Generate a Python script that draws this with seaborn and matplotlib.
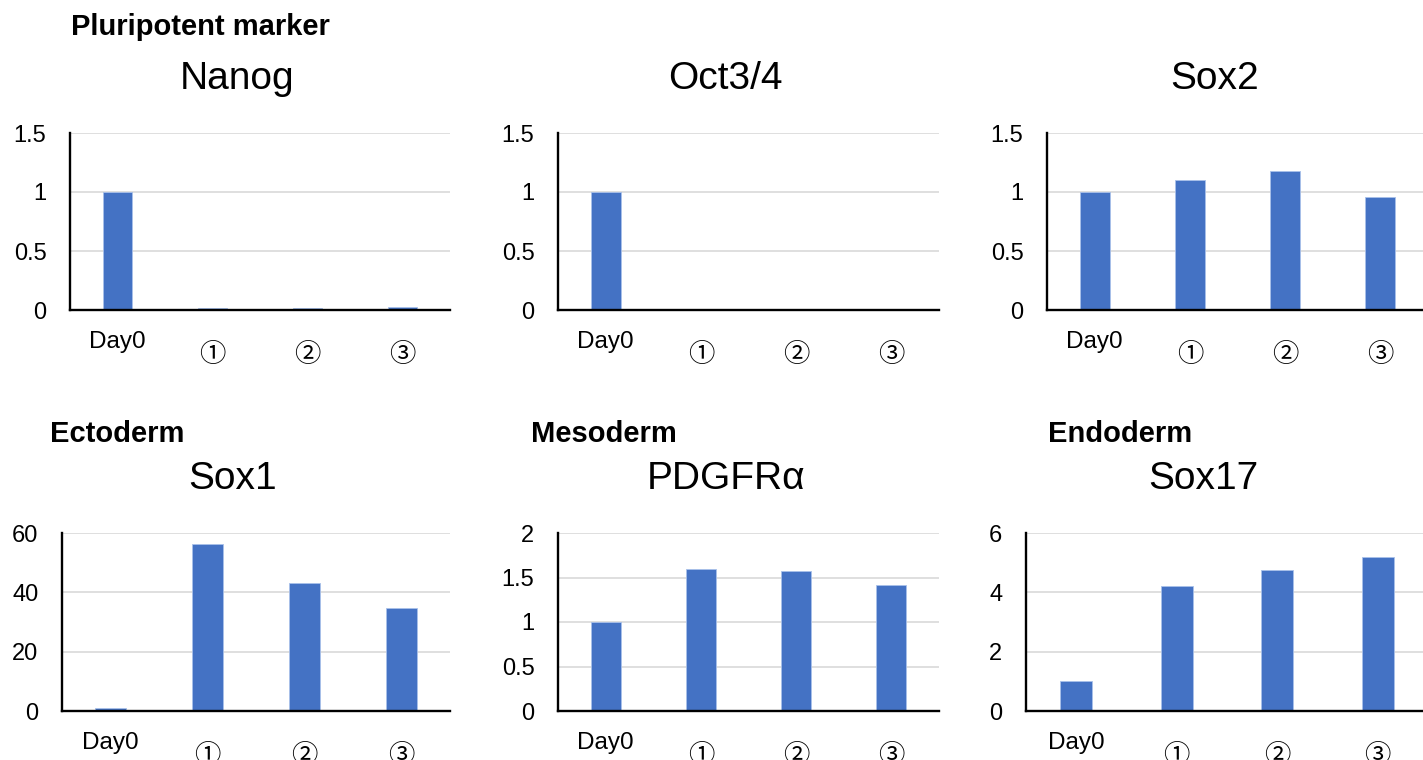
import numpy as np
import pandas as pd
import matplotlib
matplotlib.use('Agg')
import matplotlib.pyplot as plt
import matplotlib.ticker as mticker
import seaborn as sns

# values (relative expression, Day0 = 1)
days = ['Day0', '①', '②', '③']
nanog = [1.0, 0.016, 0.014, 0.026]
oct34 = [1.0, 0.0, 0.0, 0.0]
sox2 = [1.0, 1.10, 1.175, 0.96]
sox1 = [1.0, 56.2, 43.1, 34.8]
pdgfra = [1.0, 1.59, 1.575, 1.42]
sox17 = [1.0, 4.21, 4.76, 5.18]

genes = ['Nanog', 'Oct3/4', 'Sox2', 'Sox1', 'PDGFRα', 'Sox17']
values = [nanog, oct34, sox2, sox1, pdgfra, sox17]
ymax = [1.5, 1.5, 1.5, 60, 2, 6]
ystep = [0.5, 0.5, 0.5, 20, 0.5, 2]

sns.set_style('white')
plt.rcParams['font.family'] = ['Liberation Sans', 'Noto Sans CJK JP', 'DejaVu Sans']
plt.rcParams['text.color'] = 'black'
plt.rcParams['xtick.color'] = 'black'
plt.rcParams['ytick.color'] = 'black'

W, H = 1423, 760
fig = plt.figure(figsize=(W / 100, H / 100), dpi=100)

# axes boxes in pixels: left, top, right, bottom
boxes = [(70, 133, 450, 310), (558, 133, 939, 310), (1047, 133, 1428, 310),
         (62, 533, 450, 711), (558, 533, 939, 711), (1026, 533, 1428, 711)]

bar_color = '#4472C4'

for gene, vals, top, step, (l, t, r, b) in zip(genes, values, ymax, ystep, boxes):
    ax = fig.add_axes([l / W, 1 - b / H, (r - l) / W, (b - t) / H])
    df = pd.DataFrame({'day': days, 'expr': vals})
    sns.barplot(data=df, x='day', y='expr', color=bar_color, saturation=1,
                width=0.315, edgecolor='#a9c1ea', linewidth=0.6, ax=ax)
    ax.set_ylim(0, top)
    ax.set_xlim(-0.5, 3.5)
    ax.yaxis.set_major_locator(mticker.MultipleLocator(step))
    ax.yaxis.set_major_formatter(mticker.FuncFormatter(lambda v, p: f'{v:g}'))
    ax.grid(axis='y', color='#d9d9d9', linewidth=1.2)
    ax.set_axisbelow(True)
    for s in ['top', 'right']:
        ax.spines[s].set_visible(False)
    for s in ['left', 'bottom']:
        ax.spines[s].set_color('black')
        ax.spines[s].set_linewidth(1.7)
    ax.tick_params(axis='y', length=0, pad=17, labelsize=17)
    ax.tick_params(axis='x', length=0, pad=15, labelsize=17.5)
    ax.set_xlabel('')
    ax.set_ylabel('')
    ax.set_title(gene, fontsize=28, x=0.44, pad=31.5)
    for i, lab in enumerate(ax.get_xticklabels()):
        if i > 0:
            lab.set_fontfamily(['Noto Sans CJK JP', 'DejaVu Sans'])
            lab.set_fontsize(19)
            lab.set_y(-0.055)

# group labels
groups = [('Pluripotent marker', 71, 35), ('Ectoderm', 50, 442),
          ('Mesoderm', 531, 442), ('Endoderm', 1048, 442)]
for txt, x, y in groups:
    fig.text(x / W, 1 - y / H, txt, fontsize=21, fontweight='bold',
             ha='left', va='baseline')

fig.savefig('out.png', dpi=100, facecolor='white')
